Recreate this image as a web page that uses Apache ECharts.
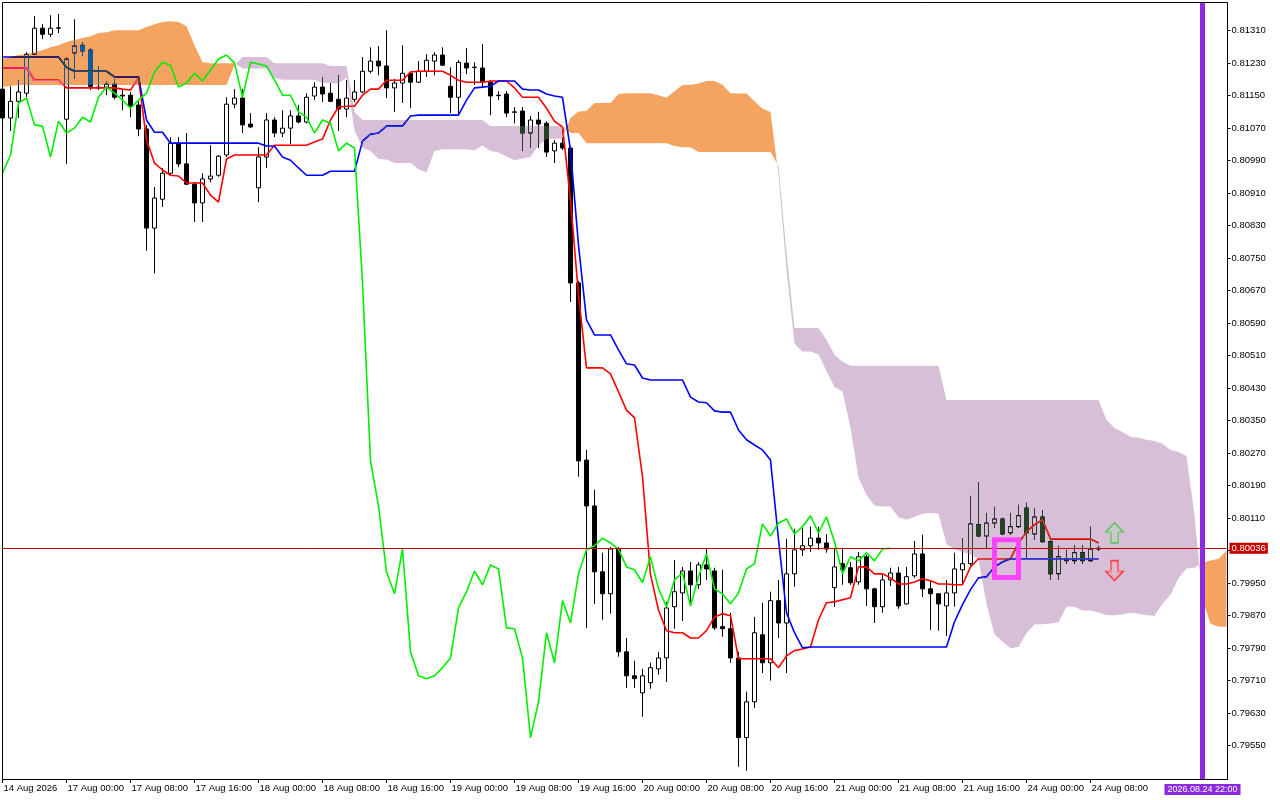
<!DOCTYPE html>
<html>
<head>
<meta charset="utf-8">
<title>H1 Ichimoku</title>
<script src="https://cdn.jsdelivr.net/npm/echarts@6.0.0/dist/echarts.min.js"></script>
<style>
html,body{margin:0;padding:0;background:#ffffff;}
#wrap{position:relative;width:1280px;height:800px;overflow:hidden;background:#ffffff;}
.layer{position:absolute;left:0;top:0;width:1280px;height:800px;}
#cloudLayer{mix-blend-mode:difference;}
</style>
</head>
<body>
<div id="wrap">
  <div id="baseLayer" class="layer"></div>
  <div id="cloudLayer" class="layer"></div>
  <div id="topLayer" class="layer"></div>
</div>
<script>
// ---------- categories (hourly bars) ----------
const sessions = [['14 Aug',16,24],['17 Aug',0,24],['18 Aug',0,24],['19 Aug',0,24],['20 Aug',0,24],['21 Aug',0,24],['24 Aug',0,24],['25 Aug',0,2]];
const categories = [];
sessions.forEach(function (s) { for (let h = s[1]; h < s[2]; h++) categories.push(s[0] + ' ' + String(h).padStart(2, '0') + ':00'); });

const xTickLabels = ['14 Aug 2026','17 Aug 00:00','17 Aug 08:00','17 Aug 16:00','18 Aug 00:00','18 Aug 08:00','18 Aug 16:00','19 Aug 00:00','19 Aug 08:00','19 Aug 16:00','20 Aug 00:00','20 Aug 08:00','20 Aug 16:00','21 Aug 00:00','21 Aug 08:00','21 Aug 16:00','24 Aug 00:00','24 Aug 08:00'];
const xTickEvery = 8;

const yTickValues = [0.7955,0.7963,0.7971,0.7979,0.7987,0.7995,0.8003,0.8011,0.8019,0.8027,0.8035,0.8043,0.8051,0.8059,0.8067,0.8075,0.8083,0.8091,0.8099,0.8107,0.8115,0.8123,0.8131];
const yMin = 0.79468, yMax = 0.81378;

// ---------- candles: [open, close, low, high] ----------
const candles = [
[0.81166,0.81095,0.81090,0.81173],[0.81095,0.81136,0.81063,0.81173],[0.81136,0.81159,0.81095,0.81188],[0.81156,0.81252,0.81146,0.81257],
[0.81252,0.81316,0.81252,0.81346],[0.81316,0.81301,0.81289,0.81326],[0.81301,0.81316,0.81294,0.81348],[0.81316,0.81317,0.81304,0.81351],
[0.81092,0.81240,0.80982,0.81245],[0.81255,0.81272,0.81191,0.81338],[0.81274,0.81260,0.81247,0.81282],[0.81262,0.81173,0.81164,0.81267],
[0.81171,0.81169,0.81164,0.81223],[0.81171,0.81178,0.81151,0.81186],[0.81178,0.81146,0.81141,0.81191],[0.81151,0.81149,0.81114,0.81164],
[0.81151,0.81124,0.81097,0.81159],[0.81127,0.81068,0.81050,0.81136],[0.81068,0.80824,0.80768,0.81078],[0.80824,0.80898,0.80713,0.80925],
[0.80895,0.80959,0.80876,0.80972],[0.80959,0.81033,0.80954,0.81048],[0.81033,0.80982,0.80974,0.81048],[0.80982,0.80932,0.80930,0.81058],
[0.80932,0.80886,0.80839,0.80937],[0.80886,0.80945,0.80839,0.80959],[0.80945,0.80952,0.80937,0.81028],[0.80954,0.81001,0.80950,0.81004],
[0.81004,0.81129,0.80999,0.81146],[0.81129,0.81144,0.81119,0.81166],[0.81144,0.81078,0.81058,0.81166],[0.81080,0.81073,0.81070,0.81107],
[0.80923,0.80999,0.80888,0.81023],[0.80999,0.81090,0.80972,0.81107],[0.81090,0.81058,0.81048,0.81097],[0.81058,0.81070,0.81048,0.81114],
[0.81070,0.81100,0.81031,0.81114],[0.81100,0.81085,0.81082,0.81127],[0.81085,0.81146,0.81082,0.81156],[0.81149,0.81171,0.81139,0.81183],
[0.81171,0.81154,0.81134,0.81196],[0.81156,0.81136,0.81134,0.81181],[0.81141,0.81117,0.81063,0.81200],[0.81117,0.81144,0.81097,0.81188],
[0.81141,0.81159,0.81134,0.81188],[0.81159,0.81210,0.81156,0.81245],[0.81210,0.81235,0.81205,0.81269],[0.81235,0.81223,0.81200,0.81272],
[0.81223,0.81169,0.81144,0.81311],[0.81169,0.81181,0.81110,0.81191],[0.81181,0.81205,0.81132,0.81274],[0.81205,0.81183,0.81119,0.81210],
[0.81183,0.81210,0.81181,0.81235],[0.81210,0.81237,0.81196,0.81252],[0.81235,0.81250,0.81200,0.81257],[0.81250,0.81225,0.81223,0.81269],
[0.81173,0.81146,0.81107,0.81220],[0.81146,0.81232,0.81102,0.81237],[0.81230,0.81218,0.81203,0.81267],[0.81220,0.81219,0.81176,0.81232],
[0.81218,0.81183,0.81171,0.81277],[0.81183,0.81149,0.81102,0.81188],[0.81151,0.81150,0.81139,0.81161],[0.81154,0.81107,0.81097,0.81161],
[0.81110,0.81109,0.81082,0.81122],[0.81112,0.81058,0.81014,0.81122],[0.81058,0.81090,0.81021,0.81100],[0.81090,0.81080,0.81021,0.81110],
[0.81082,0.81011,0.80999,0.81087],[0.81014,0.81033,0.80984,0.81041],[0.81033,0.81021,0.81016,0.81046],[0.81021,0.80689,0.80642,0.81026],
[0.80689,0.80251,0.80212,0.80694],[0.80253,0.80140,0.79840,0.80278],[0.80140,0.79978,0.79899,0.80180],[0.79978,0.79924,0.79860,0.80025],
[0.79924,0.80034,0.79875,0.80039],[0.80034,0.79781,0.79769,0.80039],[0.79781,0.79722,0.79692,0.79815],[0.79722,0.79715,0.79692,0.79759],
[0.79680,0.79722,0.79621,0.79739],[0.79705,0.79742,0.79690,0.79754],[0.79739,0.79766,0.79725,0.79781],[0.79766,0.79889,0.79707,0.79904],
[0.79892,0.79929,0.79838,0.80007],[0.79926,0.79980,0.79857,0.79990],[0.79980,0.79946,0.79899,0.80002],[0.79946,0.79995,0.79936,0.80002],
[0.79995,0.79985,0.79958,0.80034],[0.79980,0.79840,0.79835,0.79988],[0.79843,0.79838,0.79818,0.79983],[0.79838,0.79766,0.79754,0.79877],
[0.79766,0.79570,0.79498,0.79781],[0.79570,0.79658,0.79488,0.79683],[0.79658,0.79828,0.79643,0.79867],[0.79823,0.79754,0.79729,0.79902],
[0.79754,0.79907,0.79710,0.79929],[0.79907,0.79852,0.79815,0.79958],[0.79852,0.79973,0.79729,0.80059],[0.79973,0.80032,0.79941,0.80084],
[0.80032,0.80042,0.80017,0.80086],[0.80042,0.80061,0.80027,0.80089],[0.80061,0.80049,0.80032,0.80089],[0.80049,0.80034,0.80025,0.80071],
[0.79939,0.79990,0.79892,0.80037],[0.79998,0.79983,0.79946,0.80037],[0.79988,0.79951,0.79946,0.80002],[0.79953,0.80015,0.79946,0.80027],
[0.80015,0.79936,0.79894,0.80020],[0.79936,0.79892,0.79852,0.79939],[0.79892,0.79958,0.79877,0.79975],[0.79958,0.79975,0.79943,0.79988],
[0.79975,0.79894,0.79887,0.79990],[0.79899,0.79966,0.79897,0.79990],[0.79968,0.80022,0.79963,0.80054],[0.80022,0.79936,0.79916,0.80069],
[0.79936,0.79924,0.79835,0.79958],[0.79924,0.79899,0.79833,0.79926],[0.79894,0.79926,0.79820,0.79958],[0.79926,0.79985,0.79892,0.80025],
[0.79983,0.79998,0.79946,0.80061],[0.79998,0.80096,0.79993,0.80165],[0.80094,0.80066,0.80064,0.80199],[0.80066,0.80098,0.80037,0.80123],
[0.80098,0.80108,0.80086,0.80138],[0.80108,0.80071,0.80069,0.80111],[0.80074,0.80089,0.80069,0.80123],[0.80089,0.80116,0.80086,0.80143],
[0.80135,0.80074,0.80012,0.80148],[0.80071,0.80113,0.80057,0.80135],[0.80113,0.80052,0.80049,0.80130],[0.80052,0.79973,0.79958,0.80061],
[0.79973,0.80015,0.79958,0.80042],[0.80010,0.80005,0.79998,0.80032],[0.80005,0.80025,0.79998,0.80044],[0.80025,0.80005,0.79998,0.80044],
[0.80005,0.80034,0.80002,0.80089],[0.80034,0.80036,0.80029,0.80042]
];

// ---------- Ichimoku lines ----------
const tenkan = [
0.81218,0.81218,0.81218,0.81218,0.81188,0.81188,0.81188,0.81188,
0.81169,0.81169,0.81169,0.81169,0.81169,0.81169,0.81169,
0.81166,0.81164,0.81193,0.81041,0.80984,0.80967,0.80954,0.80952,
0.80935,0.80935,0.80935,0.80905,0.80888,0.80994,
0.81004,0.81004,0.81004,0.81004,0.81004,
0.81028,0.81028,0.81028,0.81028,0.81028,
0.81036,0.81043,0.81090,0.81122,0.81124,0.81124,0.81151,0.81166,0.81166,
0.81188,0.81188,0.81188,0.81208,0.81210,0.81210,0.81210,0.81210,
0.81200,0.81188,0.81183,0.81183,0.81183,0.81186,0.81186,0.81186,
0.81169,0.81146,0.81146,0.81146,0.81119,0.81087,0.81073,0.80893,0.80659,
0.80480,0.80480,0.80480,0.80465,0.80421,0.80376,0.80357,0.80212,0.79971,0.79884,0.79833,
0.79828,0.79828,0.79815,0.79815,0.79833,0.79867,0.79875,0.79870,
0.79764,0.79764,0.79764,0.79764,0.79764,
0.79742,0.79771,0.79784,0.79788,0.79793,0.79860,0.79902,0.79904,0.79909,0.79914,
0.79990,0.79990,0.79973,0.79973,0.79963,0.79948,0.79948,
0.79953,0.79961,0.79956,0.79948,0.79948,0.79946,0.79946,0.79990,
0.80010,0.80010,0.80010,0.80010,0.80010,0.80049,0.80076,0.80094,0.80106,
0.80059,0.80059,0.80059,0.80059,0.80059,0.80059,0.80049
];
const kijun = [
0.81245,0.81245,0.81245,0.81245,0.81245,0.81245,0.81245,0.81245,
0.81220,0.81210,0.81210,0.81210,0.81210,0.81210,
0.81196,0.81196,0.81196,0.81196,0.81090,0.81060,0.81060,
0.81033,0.81033,0.81033,0.81033,0.81033,0.81033,0.81033,0.81033,0.81033,0.81033,0.81033,0.81033,
0.81026,0.81026,0.80999,0.80991,0.80972,0.80954,0.80954,0.80954,
0.80964,0.80964,0.80964,0.80964,0.81038,0.81055,0.81058,
0.81075,0.81075,0.81075,0.81100,
0.81102,0.81102,0.81102,0.81102,0.81102,0.81102,
0.81139,0.81169,0.81171,0.81173,0.81186,0.81186,0.81186,
0.81166,0.81164,0.81164,0.81154,0.81149,0.81146,
0.81016,0.80782,0.80598,0.80561,0.80561,0.80561,
0.80524,0.80490,0.80487,0.80455,0.80450,0.80450,0.80450,0.80450,0.80450,
0.80408,0.80396,0.80394,0.80374,0.80371,0.80371,
0.80327,0.80303,0.80290,0.80278,0.80253,0.80057,0.79877,0.79828,0.79791,
0.79793,0.79793,0.79793,0.79793,0.79793,0.79793,0.79793,0.79793,0.79793,
0.79793,0.79793,0.79793,0.79793,0.79793,0.79793,0.79793,0.79793,0.79793,
0.79855,0.79897,0.79934,0.79963,0.79966,0.79990,0.80002,
0.80010,0.80010,0.80010,0.80010,0.80010,0.80010,0.80010,0.80010,0.80010,0.80010,0.80010,0.80010
];
const chikou = [
0.80959,0.81004,0.81132,0.81144,0.81078,0.81075,0.80999,0.81087,0.81058,0.81070,
0.81097,0.81085,0.81146,0.81171,0.81156,0.81139,0.81119,0.81139,0.81156,0.81208,
0.81232,0.81225,0.81171,0.81181,0.81205,0.81186,0.81213,0.81240,0.81250,0.81230,
0.81146,0.81232,0.81228,0.81223,0.81188,0.81151,0.81151,0.81110,0.81097,0.81058,
0.81090,0.81082,0.81014,0.81033,0.81021,0.80689,0.80251,0.80140,0.79978,0.79924,
0.80034,0.79781,0.79722,0.79715,0.79722,0.79742,0.79766,0.79889,0.79929,0.79980,
0.79946,0.79995,0.79985,0.79840,0.79838,0.79766,0.79570,0.79658,0.79828,0.79754,
0.79907,0.79852,0.79973,0.80032,0.80042,0.80061,0.80049,0.80034,0.79990,0.79983,
0.79951,0.80015,0.79936,0.79892,0.79958,0.79975,0.79894,0.79966,0.80022,0.79936,
0.79924,0.79899,0.79926,0.79985,0.79998,0.80096,0.80066,0.80098,0.80108,0.80071,
0.80089,0.80116,0.80074,0.80113,0.80052,0.79973,0.80015,0.80005,0.80025,0.80005,
0.80034,0.80036
];
const spanA = [
0.81240,0.81245,0.81250,0.81252,0.81257,0.81262,0.81269,0.81274,0.81282,0.81287,
0.81292,0.81296,0.81304,0.81306,0.81311,0.81311,0.81311,0.81311,0.81319,0.81326,
0.81331,0.81333,0.81331,0.81321,0.81274,0.81232,0.81230,0.81230,0.81230,0.81230,
0.81217,0.81217,0.81217,0.81217,0.81194,0.81189,0.81189,0.81189,0.81189,0.81189,
0.81182,0.81181,0.81180,0.81194,0.81065,0.81022,0.81014,0.80994,0.80993,0.80984,
0.80984,0.80984,0.80969,0.80961,0.81014,0.81018,0.81018,0.81018,0.81018,0.81015,
0.81027,0.81014,0.81010,0.81000,0.80991,0.80995,0.80999,0.81027,0.81043,0.81044,
0.81044,0.81095,0.81111,0.81112,0.81132,0.81132,0.81132,0.81154,0.81156,0.81156,
0.81156,0.81156,0.81151,0.81145,0.81161,0.81176,0.81177,0.81180,0.81186,0.81186,
0.81177,0.81156,0.81155,0.81155,0.81136,0.81118,0.81110,0.80954,0.80721,0.80539,
0.80520,0.80520,0.80513,0.80472,0.80433,0.80422,0.80333,0.80210,0.80167,0.80141,
0.80139,0.80139,0.80112,0.80106,0.80113,0.80121,0.80123,0.80121,0.80046,0.80033,
0.80027,0.80021,0.80009,0.79899,0.79824,0.79806,0.79790,0.79793,0.79827,0.79848,
0.79849,0.79851,0.79854,0.79892,0.79892,0.79883,0.79883,0.79878,0.79871,0.79871,
0.79873,0.79877,0.79875,0.79871,0.79870,0.79900,0.79921,0.79962,0.79986,0.79988,
0.80000,0.80006,0.80010,0.80030
];
const spanB = [
0.81172,0.81174,0.81176,0.81176,0.81176,0.81176,0.81176,0.81176,0.81176,0.81176,
0.81176,0.81176,0.81176,0.81176,0.81176,0.81176,0.81176,0.81176,0.81176,0.81176,
0.81176,0.81176,0.81176,0.81176,0.81176,0.81176,0.81176,0.81176,0.81176,0.81225,
0.81245,0.81245,0.81245,0.81245,0.81230,0.81230,0.81230,0.81230,0.81230,0.81230,
0.81230,0.81223,0.81223,0.81223,0.81110,0.81090,0.81090,0.81090,0.81090,0.81090,
0.81090,0.81090,0.81090,0.81090,0.81090,0.81090,0.81090,0.81090,0.81090,0.81090,
0.81090,0.81075,0.81075,0.81075,0.81075,0.81075,0.81075,0.81075,0.81075,0.81075,
0.81075,0.81058,0.81058,0.81033,0.81033,0.81033,0.81033,0.81033,0.81033,0.81033,
0.81033,0.81033,0.81033,0.81033,0.81026,0.81023,0.81023,0.81011,0.81011,0.81011,
0.81011,0.81011,0.81011,0.81011,0.81011,0.81011,0.81011,0.80977,0.80763,0.80578,
0.80578,0.80578,0.80578,0.80549,0.80512,0.80495,0.80485,0.80485,0.80485,0.80485,
0.80485,0.80485,0.80485,0.80485,0.80485,0.80485,0.80485,0.80485,0.80401,0.80401,
0.80401,0.80401,0.80401,0.80401,0.80401,0.80401,0.80401,0.80401,0.80401,0.80401,
0.80401,0.80401,0.80401,0.80401,0.80401,0.80401,0.80401,0.80401,0.80352,0.80332,
0.80322,0.80310,0.80308,0.80303,0.80300,0.80293,0.80278,0.80273,0.80263,0.80118,
0.79909,0.79850,0.79843,0.79843
];

const lastPrice = 0.80036;
const markerIndex = 150;
const markerLabel = '2026.08.24 22:00';
const crossBox = [[124, 127, 0.80057, 0.79964]];
const signalArrows = [[139, 0.80074], [139, 0.79981]];

// ---------- styles ----------
const FONT = 'Liberation Sans, Arial, sans-serif';
// the cloud layer is composited with CSS "difference": these inverse colours
// give sandybrown (#F4A460) and thistle (#D8BFD8) over white
const ORANGE_INV = '#0b5b9f';
const THISTLE_INV = '#274027';
const ARROW_UP = 'path://M8.5,0 L17,9 L12,9 L12,20 L5,20 L5,9 L0,9 Z';

const showTick = function (idx) { return idx % xTickEvery === 0 && idx / xTickEvery < xTickLabels.length; };

function axes(show) {
  return {
    grid: {left: -1.5, top: 3, width: 1232, height: 776, containLabel: false, outerBoundsMode: 'none', show: false},
    xAxis: {
      type: 'category', data: categories, boundaryGap: true, show: show,
      axisLine: {show: false},
      axisTick: {show: show, alignWithLabel: true, interval: showTick, length: 4, lineStyle: {color: '#000', width: 1}},
      axisLabel: {show: show, interval: showTick, formatter: function (v, idx) { return xTickLabels[idx / xTickEvery]; },
        align: 'left', margin: 4, color: '#000', fontFamily: FONT, fontSize: 9.5, padding: [0, 0, 0, 1]},
      splitLine: {show: false}
    },
    yAxis: {
      type: 'value', position: 'right', min: yMin, max: yMax, offset: -3, show: show,
      axisLine: {show: show, lineStyle: {color: '#000', width: 1}},
      axisTick: {show: show, customValues: yTickValues, length: 3, lineStyle: {color: '#000', width: 1}},
      axisLabel: {show: show, customValues: yTickValues, formatter: function (v) { return v.toFixed(5); },
        margin: 4, color: '#000', fontFamily: FONT, fontSize: 9.5},
      splitLine: {show: false}
    }
  };
}

function renderCloud(params, api) {
  if (params.dataIndex !== 0) return null;
  const n = spanA.length;
  const pa = [], pb = [];
  for (let i = 0; i < n; i++) { pa.push(api.coord([i, spanA[i]])); pb.push(api.coord([i, spanB[i]])); }
  const runs = [];
  let cur = null;
  for (let i = 0; i < n; i++) {
    const up = spanA[i] >= spanB[i];
    if (!cur) { cur = {up: up, a: [pa[i]], b: [pb[i]]}; continue; }
    if (up === cur.up) { cur.a.push(pa[i]); cur.b.push(pb[i]); continue; }
    const d0 = spanA[i-1] - spanB[i-1], d1 = spanA[i] - spanB[i];
    const t = d0 / (d0 - d1);
    const p = [pa[i-1][0] + t * (pa[i][0] - pa[i-1][0]), pa[i-1][1] + t * (pa[i][1] - pa[i-1][1])];
    cur.a.push(p); cur.b.push(p); runs.push(cur);
    cur = {up: up, a: [p, pa[i]], b: [p, pb[i]]};
  }
  runs.push(cur);
  return {
    type: 'group',
    children: runs.map(function (r) {
      return {type: 'polygon', silent: true,
        shape: {points: r.a.concat(r.b.slice().reverse())},
        style: {fill: r.up ? ORANGE_INV : THISTLE_INV}};
    })
  };
}

function renderBox(params, api) {
  const p0 = api.coord([api.value(0), api.value(2)]);
  const p1 = api.coord([api.value(1), api.value(3)]);
  return {type: 'rect', silent: true,
    shape: {x: p0[0], y: p0[1], width: p1[0] - p0[0], height: p1[1] - p0[1]},
    style: {fill: 'none', stroke: '#ff44ff', lineWidth: 5}};
}

// ---------- layer 1: price bars, Tenkan, Kijun ----------
const baseChart = echarts.init(document.getElementById('baseLayer'), null, {renderer: 'canvas'});
baseChart.setOption(Object.assign({
  animation: false, backgroundColor: '#ffffff', textStyle: {fontFamily: FONT},
  series: [
    {name: 'Price', type: 'candlestick', data: candles, barWidth: 4, z: 1, silent: true,
      itemStyle: {color: '#ffffff', color0: '#000000', borderColor: '#000000', borderColor0: '#000000', borderColorDoji: '#000000', borderWidth: 1}},
    {name: 'Tenkan-sen', type: 'line', data: tenkan, symbol: 'none', showSymbol: false, z: 2, silent: true,
      lineStyle: {color: '#ff0000', width: 1.6}},
    {name: 'Kijun-sen', type: 'line', data: kijun, symbol: 'none', showSymbol: false, z: 2, silent: true,
      lineStyle: {color: '#0000ff', width: 1.6}}
  ]
}, axes(false)));

// ---------- layer 2: Kumo (difference-composited) ----------
const cloudChart = echarts.init(document.getElementById('cloudLayer'), null, {renderer: 'canvas'});
cloudChart.setOption(Object.assign({
  animation: false, backgroundColor: 'transparent',
  series: [
    {name: 'Kumo', type: 'custom', renderItem: renderCloud, silent: true,
      data: spanA.map(function (a, i) { return [i, a, spanB[i]]; }), encode: {x: 0, y: [1, 2]}}
  ]
}, axes(false)));

// ---------- layer 3: Chikou, markers, axes ----------
const topChart = echarts.init(document.getElementById('topLayer'), null, {renderer: 'canvas'});
topChart.setOption(Object.assign({
  animation: false, backgroundColor: 'transparent', textStyle: {fontFamily: FONT},
  series: [
    {name: 'Chikou Span', type: 'line', data: chikou, symbol: 'none', showSymbol: false, z: 2, silent: true,
      lineStyle: {color: '#00ee00', width: 1.6},
      markLine: {
        silent: true, symbol: ['none', 'none'], animation: false, z: 6,
        data: [
          [{coord: [0, lastPrice], lineStyle: {color: '#c00000', width: 1, type: 'solid'},
            label: {show: true, position: 'end', formatter: lastPrice.toFixed(5), color: '#ffffff', backgroundColor: '#c80000',
              padding: [1, 2, 0, 2], distance: 3, fontFamily: FONT, fontSize: 9.5, lineHeight: 10}},
           {coord: [spanA.length - 1, lastPrice]}],
          {xAxis: markerIndex, lineStyle: {color: '#8a2be2', width: 5, type: 'solid'},
            label: {show: true, position: 'start', formatter: markerLabel, color: '#ffffff', backgroundColor: '#8a2be2',
              padding: [1, 3, 0, 3], distance: 5, fontFamily: FONT, fontSize: 9, lineHeight: 10}}
        ]
      }},
    {name: 'TK cross', type: 'custom', renderItem: renderBox, z: 7, silent: true,
      data: crossBox, encode: {x: [0, 1], y: [2, 3]}},
    {name: 'Signals', type: 'scatter', z: 7, silent: true, symbolSize: [17, 20], symbol: ARROW_UP,
      data: [
        {value: signalArrows[0], symbolRotate: 0, itemStyle: {color: 'rgba(255,255,255,0)', borderColor: '#44c444', borderWidth: 1.6}},
        {value: signalArrows[1], symbolRotate: 180, itemStyle: {color: 'rgba(255,255,255,0)', borderColor: '#ff2020', borderWidth: 1.6}}
      ]},
    {name: 'Signals inner', type: 'scatter', z: 8, silent: true, symbolSize: [12, 15], symbol: ARROW_UP,
      data: [
        {value: signalArrows[0], symbolRotate: 0, itemStyle: {color: 'rgba(255,255,255,0)', borderColor: '#a8ec98', borderWidth: 1}},
        {value: signalArrows[1], symbolRotate: 180, itemStyle: {color: 'rgba(255,255,255,0)', borderColor: '#ff9aa8', borderWidth: 1}}
      ]}
  ],
  graphic: [
    {type: 'rect', silent: true, z: 100, shape: {x: 2.5, y: 2.5, width: 1225, height: 777},
      style: {fill: 'none', stroke: '#000000', lineWidth: 1}}
  ]
}, axes(true)));
</script>
</body>
</html>
